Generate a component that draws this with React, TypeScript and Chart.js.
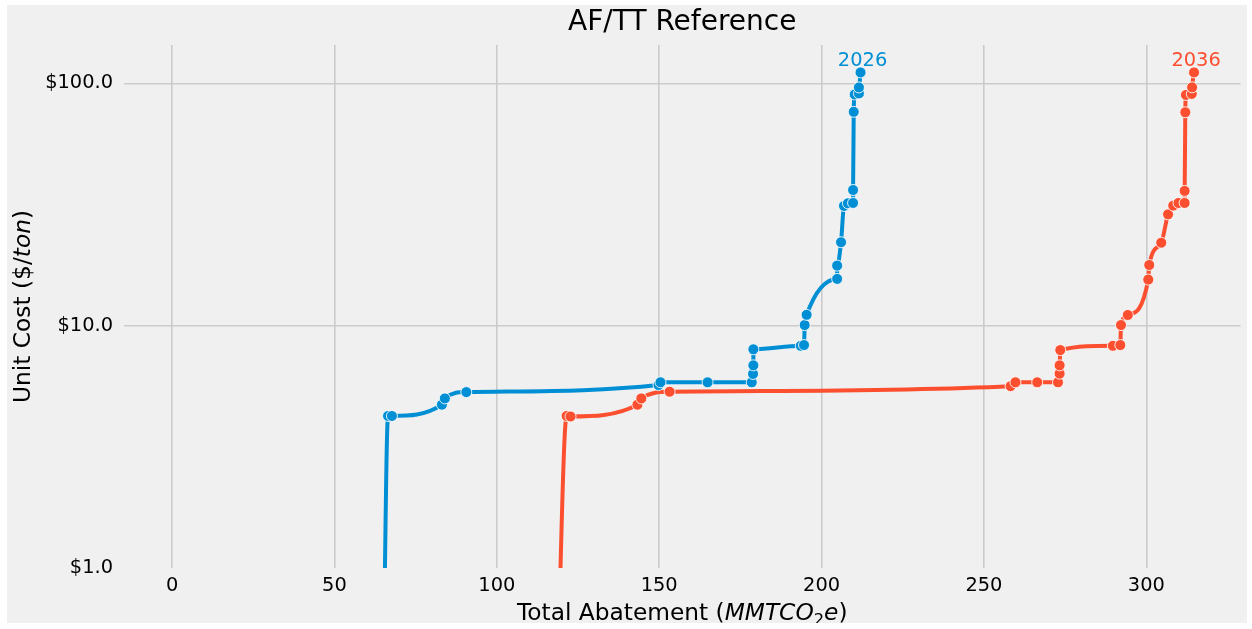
import { useEffect, useRef } from "react";
import { Chart, registerables } from "chart.js";

Chart.register(...registerables);

const chartTitle = "AF/TT Reference";
const seriesNames = ["2026", "2036"];
const seriesColors = ["#008fd5", "#fc4f30"];

const abatement2026 = [65.0, 66.5, 67.7, 83.1, 84.0, 90.6, 149.8, 150.4, 164.9, 178.5, 178.9, 179.0, 179.0, 193.6, 194.6, 194.8, 195.4, 204.8, 204.8, 206.0, 206.9, 208.1, 209.7, 209.7, 209.9, 210.2, 211.5, 211.5, 212.0];
const cost2026 = [0.3, 4.24, 4.24, 4.72, 5.01, 5.32, 5.69, 5.84, 5.84, 5.84, 6.32, 6.86, 7.99, 8.26, 8.32, 10.06, 11.09, 15.6, 17.7, 22.1, 31.2, 32.0, 32.1, 36.3, 76.3, 90.0, 90.9, 96.2, 111];

const abatement2036 = [118.5, 121.5, 122.7, 143.3, 144.5, 153.2, 258.2, 259.7, 266.4, 272.8, 273.3, 273.3, 273.5, 289.7, 292.0, 292.2, 294.3, 300.6, 300.9, 304.6, 306.7, 308.3, 309.9, 311.8, 311.8, 312.0, 312.2, 314.0, 314.1, 314.7];
const cost2036 = [0.3, 4.24, 4.22, 4.72, 5.01, 5.34, 5.63, 5.84, 5.84, 5.84, 6.34, 6.86, 7.93, 8.26, 8.32, 10.06, 11.07, 15.5, 17.8, 22.0, 28.8, 31.3, 32.1, 32.1, 36.0, 76, 89.6, 90.5, 96.3, 111];

const xTicks = [0, 50, 100, 150, 200, 250, 300];
const yTicks = [1, 10, 100];

const FONT = "'DejaVu Sans', sans-serif";

type Seg = { t: string; italic?: boolean; sub?: boolean };
const xTitleSegs: Seg[] = [
  { t: "Total Abatement (" },
  { t: "MMTCO", italic: true },
  { t: "2", sub: true },
  { t: "e", italic: true },
  { t: ")" },
];
const yTitleSegs: Seg[] = [
  { t: "Unit Cost ($/" },
  { t: "ton", italic: true },
  { t: ")" },
];

function drawRich(ctx: CanvasRenderingContext2D, segs: Seg[], cx: number, cy: number, size: number) {
  const fontOf = (s: Seg) =>
    `${s.italic ? "italic " : ""}${s.sub ? size * 0.7 : size}px ${FONT}`;
  let total = 0;
  const widths = segs.map((s) => {
    ctx.font = fontOf(s);
    const w = ctx.measureText(s.t).width;
    total += w;
    return w;
  });
  let x = cx - total / 2;
  ctx.textAlign = "left";
  ctx.textBaseline = "alphabetic";
  const base = cy + size * 0.35;
  segs.forEach((s, i) => {
    ctx.font = fontOf(s);
    ctx.fillText(s.t, x, base + (s.sub ? size * 0.22 : 0));
    x += widths[i];
  });
}

const textPlugin = {
  id: "richTexts",
  afterDraw(chart: any) {
    const { ctx, chartArea } = chart;
    ctx.save();
    ctx.fillStyle = "#000";
    ctx.textAlign = "center";
    ctx.textBaseline = "middle";
    ctx.font = `28px ${FONT}`;
    const midX = (chartArea.left + chartArea.right) / 2;
    ctx.fillText(chartTitle, midX, 18);
    drawRich(ctx, xTitleSegs, midX, 607, 23.3);
    ctx.save();
    ctx.translate(15, (chartArea.top + chartArea.bottom) / 2);
    ctx.rotate(-Math.PI / 2);
    drawRich(ctx, yTitleSegs, 0, 0, 23.3);
    ctx.restore();
    chart.data.datasets.forEach((ds: any, i: number) => {
      const meta = chart.getDatasetMeta(i);
      const last = meta.data[meta.data.length - 1];
      if (!last) return;
      ctx.fillStyle = seriesColors[i];
      ctx.font = `19.4px ${FONT}`;
      ctx.textAlign = "center";
      ctx.textBaseline = "alphabetic";
      ctx.fillText(seriesNames[i], last.x + 2, last.y - 6);
    });
    ctx.restore();
  },
};

export default function App() {
  const ref = useRef<HTMLCanvasElement | null>(null);
  useEffect(() => {
    if (!ref.current) return;
    const makeData = (xs: number[], ys: number[]) => xs.map((x, i) => ({ x, y: ys[i] }));
    const chart = new Chart(ref.current, {
      type: "line",
      data: {
        datasets: [
          { label: seriesNames[0], data: makeData(abatement2026, cost2026) },
          { label: seriesNames[1], data: makeData(abatement2036, cost2036) },
        ].map((d, i) => ({
          ...d,
          borderColor: seriesColors[i],
          backgroundColor: seriesColors[i],
          pointBackgroundColor: seriesColors[i],
          pointBorderColor: "rgba(255,255,255,0.85)",
          pointBorderWidth: 1,
          pointRadius: 5.5,
          borderWidth: 4,
          cubicInterpolationMode: "monotone" as const,
          fill: false,
        })),
      },
      options: {
        animation: false,
        responsive: false,
        devicePixelRatio: 1,
        layout: { padding: { top: 40, right: 2, left: 0, bottom: 0 } },
        plugins: { legend: { display: false }, tooltip: { enabled: false }, title: { display: false } },
        scales: {
          x: {
            type: "linear",
            min: -14.8,
            max: 329,
            afterBuildTicks: (s: any) => {
              s.ticks = xTicks.map((v) => ({ value: v }));
            },
            afterFit: (s: any) => {
              s.height = 55;
            },
            ticks: { font: { family: FONT, size: 19.4 }, color: "#000", padding: 6, maxRotation: 0 },
            grid: { color: "#cbcbcb", lineWidth: 1.6, drawTicks: false },
            border: { display: false },
          },
          y: {
            type: "logarithmic",
            min: 1,
            max: 144,
            afterBuildTicks: (s: any) => {
              s.ticks = yTicks.map((v) => ({ value: v }));
            },
            afterFit: (s: any) => {
              s.width = 117;
            },
            ticks: {
              font: { family: FONT, size: 19.4 },
              color: "#000",
              padding: 11,
              callback: (v: any) => "$" + Number(v).toFixed(1),
            },
            grid: {
              color: (c: any) => (c.tick && c.tick.value === 1 ? "rgba(0,0,0,0)" : "#cbcbcb"),
              lineWidth: 1.6,
              drawTicks: false,
            },
            border: { display: false },
          },
        },
      },
      plugins: [textPlugin],
    });
    return () => chart.destroy();
  }, []);
  return (
    <div
      style={{
        position: "absolute",
        left: 7,
        top: 5,
        width: 1240,
        height: 618,
        background: "#f0f0f0",
      }}
    >
      <canvas ref={ref} width={1240} height={618} style={{ display: "block" }} />
    </div>
  );
}
